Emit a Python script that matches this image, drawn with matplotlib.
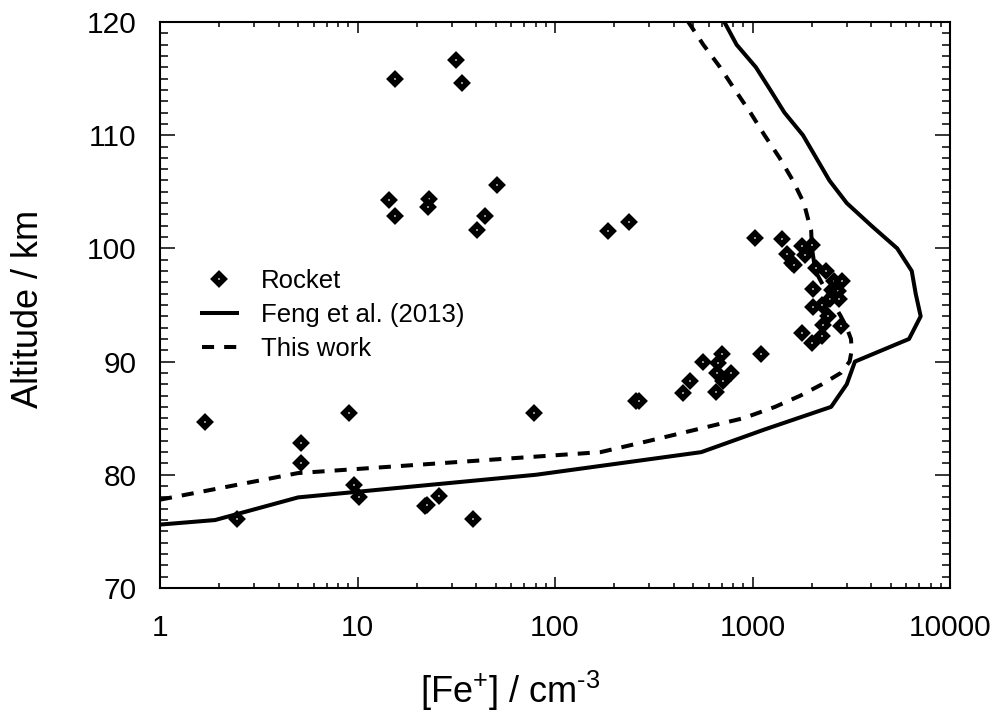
import matplotlib
matplotlib.use("Agg")
import matplotlib.pyplot as plt
from matplotlib.ticker import LogLocator, FuncFormatter, MultipleLocator

# --- font ---
plt.rcParams['font.family'] = ['Liberation Sans', 'DejaVu Sans']
plt.rcParams['mathtext.fontset'] = 'custom'
plt.rcParams['mathtext.rm'] = 'Liberation Sans'
plt.rcParams['mathtext.default'] = 'regular'

# --- rocket measurements: [Fe+] (cm^-3) and altitude (km) ---
rocket_fe = [15.5, 31.5, 33.8, 14.4, 15.4, 22.9, 22.7, 50.7, 44.0, 40.4,
             185, 237, 1030, 1406, 1775, 1990, 1489, 1840, 1585, 1620,
             2100, 2360, 2580, 2825, 2030, 2513, 2700, 2470, 2750, 2030,
             2236, 2410, 2285, 2800, 1775, 2236, 1990, 1100, 703, 564,
             671, 659, 778, 711, 483, 446, 653, 256, 265, 1.68,
             5.2, 5.2, 9.1, 9.6, 10.2, 2.44, 22.0, 22.6, 25.9, 38.3,
             78.3]
rocket_alt = [115.0, 116.6, 114.6, 104.3, 102.9, 104.35, 103.7, 105.6, 102.9, 101.6,
              101.5, 102.3, 100.9, 100.8, 100.2, 100.3, 99.5, 99.4, 98.7, 98.5,
              98.3, 98.0, 97.1, 97.1, 96.4, 96.35, 96.2, 95.5, 95.5, 94.8,
              95.0, 94.0, 93.25, 93.1, 92.5, 92.3, 91.6, 90.7, 90.7, 90.0,
              89.9, 89.0, 89.0, 88.25, 88.25, 87.2, 87.3, 86.5, 86.5, 84.7,
              82.8, 81.0, 85.5, 79.1, 78.0, 76.05, 77.2, 77.3, 78.1, 76.1,
              85.5]

# --- Feng et al. (2013) profile ---
feng_fe = [1, 1.9, 5, 80, 550, 1150, 2500, 3000, 3300, 6200, 7100, 6700,
           6400, 5400, 4000, 3000, 2450, 2100, 1800, 1450, 1230, 1040, 830, 720]
feng_alt = [75.6, 76.0, 78.0, 80.0, 82.0, 84.0, 86.0, 88.0, 90.0, 92.0, 94.0, 96.0,
            98.0, 100.0, 102.0, 104.0, 106.0, 108.0, 110.0, 112.0, 114.0, 116.0, 118.0, 120.0]

# --- this work ---
work_fe = [1, 5, 170, 300, 520, 900, 1300, 1750, 2250, 2800, 3100, 3180, 3150,
           3000, 2800, 2400, 2080, 2000, 1980, 1950, 1820, 1600, 1370, 1150,
           975, 815, 685, 563, 473]
work_alt = [77.8, 80.15, 82.0, 83.0, 84.0, 85.0, 86.0, 87.0, 88.0, 89.0, 90.0, 91.0, 92.0,
            93.0, 94.0, 96.0, 98.0, 100.0, 101.6, 102.0, 104.0, 106.0, 108.0, 110.0,
            112.0, 114.0, 116.0, 118.0, 120.0]

fig = plt.figure(figsize=(9.97, 7.12), dpi=100)
ax = fig.add_axes([0.1605, 0.1742, 0.7924, 0.7949])

ax.plot(rocket_fe, rocket_alt, linestyle='none', marker='D', markersize=5.0,
        markerfacecolor='white', markeredgecolor='black', markeredgewidth=4.0,
        label='Rocket', zorder=3)
ax.plot(feng_fe, feng_alt, color='black', lw=2.9, label='Feng et al. (2013)')
ax.plot(work_fe, work_alt, color='black', lw=2.9, linestyle=(0, (3, 2.5)),
        label='This work')

ax.set_xscale('log')
ax.set_xlim(1, 10000)
ax.set_ylim(70, 120)

ax.xaxis.set_major_locator(LogLocator(base=10, numticks=10))
ax.xaxis.set_minor_locator(LogLocator(base=10, subs=range(2, 10), numticks=50))
ax.xaxis.set_major_formatter(FuncFormatter(lambda v, p: f"{v:g}" if v < 1e5 else ""))
ax.xaxis.set_minor_formatter(FuncFormatter(lambda v, p: ""))
ax.yaxis.set_major_locator(MultipleLocator(10))
ax.yaxis.set_minor_locator(MultipleLocator(1))

for s in ax.spines.values():
    s.set_linewidth(1.5)

ax.tick_params(axis='both', which='both', direction='in', top=True, right=True,
               width=1.1, labelsize=21.5)
ax.tick_params(axis='x', which='major', length=8, pad=19)
ax.tick_params(axis='x', which='minor', length=3.6)
ax.tick_params(axis='y', which='major', length=11, pad=17)
ax.tick_params(axis='y', which='minor', length=5.7)

ax.set_xlabel(r'[Fe$^{+}$] / cm$^{\text{-}3}$', fontsize=26, va='center')
ax.xaxis.set_label_coords(0.443, -0.182)
ax.set_ylabel('Altitude / km', fontsize=26, va='center')
ax.yaxis.set_label_coords(-0.166, 0.493)

ax.legend(loc='center left', bbox_to_anchor=(0.053, 0.482), frameon=False,
          fontsize=18.5, numpoints=1, handlelength=1.35, handletextpad=0.95,
          labelspacing=0.38, borderpad=0, borderaxespad=0)

fig.savefig('out.png', dpi=100)
